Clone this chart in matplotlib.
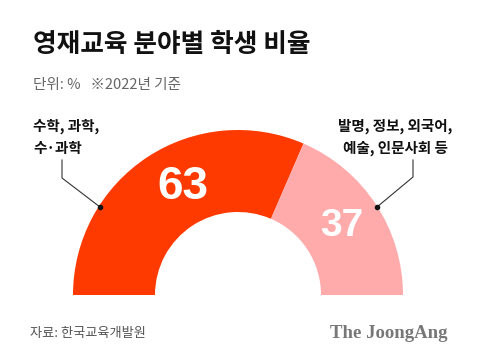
import matplotlib.pyplot as plt

# ── Data ──────────────────────────────────────────────────────────────────────
categories = ["수학, 과학,\n수·과학", "발명, 정보, 외국어,\n예술, 인문사회 등"]
shares     = [63, 37]
colors     = ["#FF3A00", "#FFABAB"]

TITLE    = "영재교육 분야별 학생 비율"
SUBTITLE = "단위: %   ※2022년 기준"
SOURCE   = "자료: 한국교육개발원"
BRAND    = "The JoongAng"

plt.rcParams["font.family"] = ["Noto Sans CJK KR", "DejaVu Sans"]

W, H = 480, 362
fig = plt.figure(figsize=(W / 100, H / 100), dpi=100)
ax = fig.add_axes([0, 0, 1, 1])

# half donut: the hidden wedge fills the bottom half
cx, cy, r_out, r_in = 238, 295, 165, 83
vals = shares + [sum(shares)]
wedges, _ = ax.pie(vals, colors=colors + ["none"], startangle=180,
                   counterclock=False, center=(cx, -cy), radius=r_out,
                   wedgeprops=dict(width=r_out - r_in, linewidth=0))
ax.set_xlim(0, W)
ax.set_ylim(-H, 0)
ax.set_aspect("equal")
ax.axis("off")

# value labels
num_font = ["Liberation Sans", "DejaVu Sans"]
ax.text(183, -187, str(shares[0]), color="white", fontsize=33,
        fontweight="bold", family=num_font, ha="center", va="center")
ax.text(342, -226, str(shares[1]), color="white", fontsize=28,
        fontweight="bold", family=num_font, ha="center", va="center")

# leader lines + category labels
ax.plot([62, 62, 100], [-160, -178, -207], color="#333333", lw=0.8)
ax.plot([100], [-207], "o", color="#111111", ms=3)
ax.text(33, -137, categories[0], fontsize=10.5, fontweight="bold",
        ha="left", va="center", linespacing=1.4, color="#111111")

ax.plot([413, 413, 377], [-160, -177, -207], color="#333333", lw=0.8)
ax.plot([377], [-207], "o", color="#111111", ms=3)
ax.text(395, -137, categories[1], fontsize=10.5, fontweight="bold",
        ha="center", va="center", linespacing=1.4, color="#111111")

# titles & footer
ax.text(33, -44, TITLE, fontsize=18.5, fontweight="heavy", color="#111111",
        ha="left", va="center")
ax.text(33, -85, SUBTITLE, fontsize=10.5, color="#666666",
        ha="left", va="center")
ax.text(30, -333, SOURCE, fontsize=9.5, color="#555555",
        ha="left", va="center")
ax.text(448, -333, BRAND, fontsize=13.5, fontweight="bold", color="#777777",
        family="Liberation Serif", ha="right", va="center")

fig.savefig("out.png", dpi=100)
